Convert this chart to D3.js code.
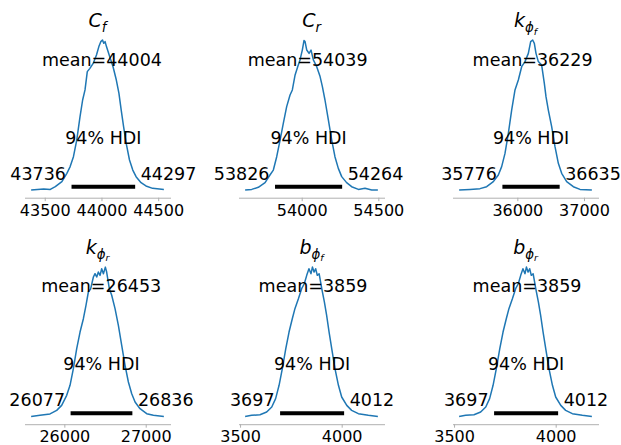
<!DOCTYPE html>
<html>
<head>
<meta charset="utf-8">
<script src="https://cdn.jsdelivr.net/npm/d3@7"></script>
<style>
  html, body { margin: 0; padding: 0; background: #ffffff; }
  svg { display: block; font-family: "DejaVu Sans", sans-serif; }
</style>
</head>
<body>
<svg id="chart" width="621" height="445"></svg>
<script>
// ---------------- data ----------------
const paramNames = ["C_f", "C_r", "k_phi_f", "k_phi_r", "b_phi_f", "b_phi_r"];
const means   = [44004, 54039, 36229, 26453, 3859, 3859];
const hdiLow  = [43736, 53826, 35776, 26077, 3697, 3697];
const hdiHigh = [44297, 54264, 36635, 26836, 4012, 4012];
const tickValues = [
  [43500, 44000, 44500],
  [54000, 54500],
  [36000, 37000],
  [26000, 27000],
  [3500, 4000],
  [3500, 4000]
];
// kernel density (x value, density relative to the peak)
const densityCf = [
  [43380,0],[43491,0.007],[43549,0.004],[43593,0.022],[43651,0.056],[43695,0.111],[43724,0.156],
  [43753,0.222],[43782,0.333],[43811,0.489],[43834,0.6],[43855,0.667],[43875,0.789],[43898,0.811],
  [43927,0.844],[43956,0.9],[43977,0.956],[43994,0.989],[44009,1.0],[44020,0.978],[44032,0.989],
  [44044,0.956],[44073,0.889],[44102,0.822],[44131,0.733],[44154,0.644],[44174,0.533],[44195,0.422],
  [44218,0.311],[44247,0.2],[44276,0.133],[44305,0.089],[44349,0.049],[44392,0.027],[44451,0.011],[44550,0.004]
];
const densityCr = [
  [53631,0],[53674,0.004],[53717,0.018],[53761,0.049],[53793,0.1],[53815,0.133],[53837,0.222],
  [53859,0.333],[53880,0.444],[53902,0.556],[53924,0.633],[53939,0.667],[53957,0.767],[53974,0.822],
  [53989,0.867],[54004,0.933],[54015,0.996],[54022,0.989],[54033,0.933],[54048,0.911],[54061,0.933],
  [54076,0.867],[54098,0.822],[54120,0.756],[54135,0.689],[54152,0.6],[54174,0.467],[54196,0.333],
  [54217,0.222],[54239,0.144],[54261,0.089],[54293,0.049],[54326,0.022],[54370,0.004],[54413,0.011],
  [54457,0],[54497,0]
];
const densityKPhiF = [
  [35127,0],[35290,0.004],[35440,0.009],[35540,0.022],[35640,0.056],[35715,0.1],[35765,0.156],
  [35815,0.244],[35865,0.378],[35915,0.533],[35965,0.667],[36015,0.733],[36065,0.822],[36115,0.856],
  [36165,0.911],[36200,0.989],[36230,1.0],[36255,0.978],[36280,0.911],[36315,0.856],[36365,0.833],
  [36405,0.711],[36430,0.622],[36465,0.533],[36515,0.422],[36565,0.289],[36615,0.178],[36665,0.111],
  [36740,0.056],[36840,0.022],[36940,0.004],[37118,0]
];
const densityKPhiR = [
  [25592,0],[25701,0.008],[25824,0.017],[25906,0.041],[25967,0.074],[26029,0.141],[26070,0.208],
  [26111,0.319],[26152,0.452],[26193,0.563],[26234,0.652],[26266,0.741],[26295,0.83],[26324,0.852],
  [26357,0.93],[26377,0.952],[26398,0.93],[26418,0.963],[26439,0.941],[26459,0.985],[26480,0.952],
  [26504,0.996],[26520,0.963],[26553,0.852],[26582,0.808],[26623,0.719],[26664,0.607],[26705,0.474],
  [26746,0.341],[26787,0.23],[26828,0.152],[26869,0.097],[26930,0.052],[27012,0.019],[27094,0.008],[27223,0]
];
const densityBPhiF = [
  [3525,0],[3557,0.008],[3598,0.012],[3631,0.03],[3656,0.063],[3675,0.119],[3692,0.208],[3708,0.319],
  [3725,0.452],[3741,0.563],[3757,0.652],[3770,0.719],[3787,0.785],[3803,0.852],[3816,0.885],[3828,0.941],
  [3839,0.985],[3849,0.952],[3856,0.996],[3864,0.963],[3872,0.985],[3880,0.941],[3889,0.952],[3902,0.852],
  [3915,0.763],[3926,0.674],[3938,0.563],[3951,0.452],[3967,0.319],[3984,0.208],[4000,0.13],[4025,0.074],
  [4049,0.041],[4082,0.019],[4131,0.008],[4178,0]
];
const densityBPhiR = [
  [3525,0],[3557,0.008],[3598,0.012],[3631,0.03],[3656,0.063],[3675,0.119],[3692,0.208],[3708,0.319],
  [3725,0.452],[3741,0.563],[3757,0.652],[3770,0.719],[3787,0.785],[3803,0.852],[3816,0.885],[3828,0.941],
  [3839,0.985],[3849,0.952],[3856,0.996],[3864,0.963],[3872,0.985],[3880,0.941],[3889,0.952],[3902,0.852],
  [3915,0.763],[3926,0.674],[3938,0.563],[3951,0.452],[3967,0.319],[3984,0.208],[4000,0.13],[4025,0.074],
  [4049,0.041],[4082,0.019],[4131,0.008],[4178,0]
];
const densities = [densityCf, densityCr, densityKPhiF, densityKPhiR, densityBPhiF, densityBPhiR];

// ---------------- layout ----------------
const colLeft = [24.5, 238.5, 452.5];
const axW = 146;
const rowBase = [190, 416.5];   // pixel of density 0
const peakPx = 150;             // pixel height of density 1
const lineColor = "#1f77b4";
const textSize = 17.5;
const tickFont = 16;
const titleSize = 19;

const svg = d3.select("#chart");

function drawTitle(g, name, cx, y) {
  const t = g.append("text").attr("x", cx).attr("y", y)
    .attr("text-anchor", "middle").attr("font-size", titleSize).attr("fill", "#000");
  const parts = name.split("_");
  t.append("tspan").attr("font-style", "italic").text(parts[0]);
  if (parts.length === 2) {
    t.append("tspan").attr("font-style", "italic").attr("font-size", titleSize * 0.7)
      .attr("dy", 5).text(parts[1]);
  } else {
    t.append("tspan").attr("font-style", "italic").attr("font-size", titleSize * 0.7)
      .attr("dy", 5).text("\u03d5");
    t.append("tspan").attr("font-style", "italic").attr("font-size", titleSize * 0.5)
      .attr("dy", 2.5).text(parts[2]);
  }
}

paramNames.forEach((name, i) => {
  const row = Math.floor(i / 3), col = i % 3;
  const dens = densities[i];
  const lo = dens[0][0], hi = dens[dens.length - 1][0];
  const pad = (hi - lo) * 0.05;
  const x = d3.scaleLinear().domain([lo - pad, hi + pad]).range([colLeft[col], colLeft[col] + axW]);
  const y0 = rowBase[row];
  const y = d3.scaleLinear().domain([0, 1]).range([y0, y0 - peakPx]);
  const g = svg.append("g");

  // x axis (bottom spine only)
  const axisY = y(-0.0513);
  const ax = g.append("g").attr("transform", `translate(0,${axisY})`)
    .call(d3.axisBottom(x).tickValues(tickValues[i]).tickFormat(d3.format("d"))
      .tickSize(3.5).tickSizeOuter(0).tickPadding(3));
  ax.select(".domain").attr("stroke", "#b0b0b0").attr("stroke-width", 1);
  ax.selectAll(".tick line").attr("stroke", "#b0b0b0").attr("stroke-width", 1);
  ax.selectAll(".tick text").attr("font-size", tickFont).attr("fill", "#000")
    .attr("font-family", "DejaVu Sans, sans-serif");

  // density curve
  g.append("path").datum(dens)
    .attr("fill", "none").attr("stroke", lineColor).attr("stroke-width", 1.5)
    .attr("stroke-linejoin", "round")
    .attr("d", d3.line().x(d => x(d[0])).y(d => y(d[1])));

  // HDI bar
  g.append("line")
    .attr("x1", x(hdiLow[i])).attr("x2", x(hdiHigh[i]))
    .attr("y1", y(0.021)).attr("y2", y(0.021))
    .attr("stroke", "#000").attr("stroke-width", 4);

  // texts
  g.append("text").attr("x", x(means[i])).attr("y", y(0.83))
    .attr("text-anchor", "middle").attr("font-size", textSize).text("mean=" + means[i]);
  g.append("text").attr("x", x((hdiLow[i] + hdiHigh[i]) / 2)).attr("y", y(0.31))
    .attr("text-anchor", "middle").attr("font-size", textSize).text("94% HDI");
  g.append("text").attr("x", x(hdiLow[i])).attr("dx", -textSize * 0.318).attr("y", y(0.067))
    .attr("text-anchor", "end").attr("font-size", textSize).text(hdiLow[i]);
  g.append("text").attr("x", x(hdiHigh[i])).attr("dx", textSize * 0.318).attr("y", y(0.067))
    .attr("text-anchor", "start").attr("font-size", textSize).text(hdiHigh[i]);

  drawTitle(g, name, colLeft[col] + axW / 2, y0 - 163);
});
</script>
</body>
</html>
